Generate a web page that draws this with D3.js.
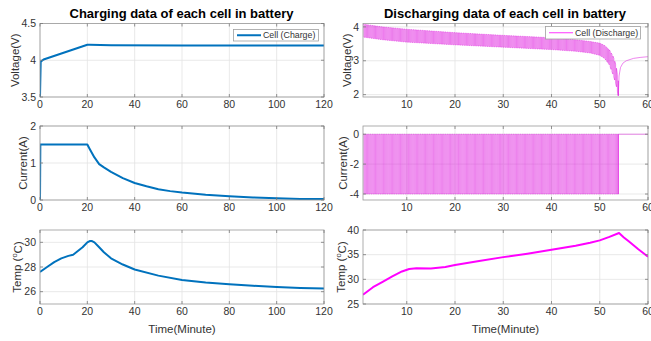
<!DOCTYPE html>
<html>
<head>
<meta charset="utf-8">
<script src="https://cdn.jsdelivr.net/npm/d3@7/dist/d3.min.js"></script>
<style>
  body { margin: 0; background: #fff; }
  text { font-family: "Liberation Sans", Arial, sans-serif; fill: #333; }
</style>
</head>
<body>
<svg id="chart" width="651" height="341"></svg>
<script>
// ---- charging data (minutes) ----
const chTime = [0, 0.3, 1.5, 20, 21, 30, 60, 90, 120];
const chVolt = [3.5, 3.98, 4.01, 4.21, 4.21, 4.205, 4.2, 4.2, 4.2];

const chCurTime = [0, 0.15, 20, 21, 23, 25, 27, 30, 35, 40, 45, 50, 55, 60, 70, 80, 90, 100, 110, 120];
const chCur = [0, 1.5, 1.5, 1.38, 1.15, 0.97, 0.88, 0.76, 0.59, 0.46, 0.37, 0.29, 0.24, 0.2, 0.14, 0.1, 0.07, 0.05, 0.03, 0.025];

const chTempTime = [0, 3, 6, 9, 12, 14, 16, 18, 20, 21, 22, 23, 25, 27, 30, 35, 40, 50, 60, 70, 80, 90, 100, 110, 120];
const chTemp = [27.6, 28.0, 28.4, 28.7, 28.9, 29.0, 29.3, 29.6, 30.0, 30.1, 30.1, 30.0, 29.6, 29.2, 28.7, 28.2, 27.8, 27.3, 26.95, 26.75, 26.6, 26.48, 26.37, 26.3, 26.25];

// ---- discharging data (minutes) ----
// pulse discharge: envelope of the voltage band (rest level / load level)
const disEnvTime = [0.93, 5, 10, 20, 30, 40, 45, 48, 50, 51, 52, 52.8, 53.4, 53.8];
const disVoltRest = [4.08, 4.0, 3.93, 3.83, 3.75, 3.68, 3.62, 3.57, 3.52, 3.45, 3.32, 3.12, 2.85, 2.45];
const disVoltLoad = [3.70, 3.62, 3.55, 3.47, 3.40, 3.33, 3.28, 3.23, 3.16, 3.07, 2.88, 2.58, 2.28, 2.0];
const pulsePeriod = 0.37;   // minutes per rest/load cycle
const pulseEnd = 53.85;
const restCurrent = 0;
const loadCurrent = -4;
// voltage recovery after the last pulse
const disRecTime = [53.85, 54.0, 54.3, 54.8, 55.5, 57, 58.5, 60];
const disRecVolt = [2.0, 2.55, 2.8, 2.93, 3.0, 3.07, 3.1, 3.12];

const disTempTime = [0.93, 3, 5, 7, 9, 10.5, 12, 15, 18, 20, 25, 30, 35, 40, 45, 48, 50, 52, 54, 55, 56, 58, 60];
const disTemp = [26.9, 28.4, 29.5, 30.6, 31.6, 32.1, 32.25, 32.2, 32.5, 32.9, 33.7, 34.5, 35.2, 36.0, 36.8, 37.4, 37.9, 38.6, 39.4, 38.5, 37.7, 36.1, 34.6];

// ---- ticks ----
const chXTicks = [0, 20, 40, 60, 80, 100, 120];
const disXTicks = [10, 20, 30, 40, 50, 60];

const BLUE = "#0072BD";
const MAG = "#ff00ff";

const svg = d3.select("#chart");

// build pulse traces from the envelope arrays
const restAt = d3.scaleLinear().domain(disEnvTime).range(disVoltRest);
const loadAt = d3.scaleLinear().domain(disEnvTime).range(disVoltLoad);
const disVolt = [];
const disCur = [];
for (let t0 = disEnvTime[0]; t0 < pulseEnd; t0 += pulsePeriod) {
  const tm = Math.min(t0 + pulsePeriod / 2, pulseEnd);
  const t1 = Math.min(t0 + pulsePeriod, pulseEnd);
  disVolt.push([t0, restAt(t0)], [tm, restAt(tm)], [tm, loadAt(tm)], [t1, loadAt(t1)]);
  disCur.push([t0, restCurrent], [tm, restCurrent], [tm, loadCurrent], [t1, loadCurrent]);
}
disRecTime.forEach((t, i) => disVolt.push([t, disRecVolt[i]]));
disCur.push([pulseEnd, restCurrent], [60, restCurrent]);

const zip = (a, b) => a.map((t, i) => [t, b[i]]);

let clipId = 0;
function panel(o) {
  const x = d3.scaleLinear().domain(o.xd).range([o.x0, o.x1]);
  const y = d3.scaleLinear().domain(o.yd).range([o.y1, o.y0]);
  const g = svg.append("g");

  // grid
  g.selectAll(".gx").data(o.xt).join("line")
    .attr("x1", d => x(d)).attr("x2", d => x(d))
    .attr("y1", o.y0).attr("y2", o.y1)
    .attr("stroke", "#e3e3e3").attr("stroke-width", 0.8);
  g.selectAll(".gy").data(o.yt).join("line")
    .attr("x1", o.x0).attr("x2", o.x1)
    .attr("y1", d => y(d)).attr("y2", d => y(d))
    .attr("stroke", "#e3e3e3").attr("stroke-width", 0.8);

  // data lines
  const id = "clip" + (clipId++);
  g.append("clipPath").attr("id", id).append("rect")
    .attr("x", o.x0).attr("y", o.y0)
    .attr("width", o.x1 - o.x0).attr("height", o.y1 - o.y0);
  const line = d3.line().x(d => x(d[0])).y(d => y(d[1]));
  o.series.forEach(s => {
    g.append("path").attr("clip-path", `url(#${id})`)
      .attr("d", line(s.data))
      .attr("fill", "none")
      .attr("stroke", s.color)
      .attr("stroke-width", s.width)
      .attr("stroke-opacity", s.opacity || 1)
      .attr("stroke-linejoin", "round");
  });

  // box + inward ticks
  g.append("rect").attr("x", o.x0).attr("y", o.y0)
    .attr("width", o.x1 - o.x0).attr("height", o.y1 - o.y0)
    .attr("fill", "none").attr("stroke", "#9a9a9a").attr("stroke-width", 0.8);
  o.xt.forEach(d => {
    g.append("line").attr("x1", x(d)).attr("x2", x(d)).attr("y1", o.y1).attr("y2", o.y1 - 3)
      .attr("stroke", "#7a7a7a").attr("stroke-width", 0.8);
    g.append("line").attr("x1", x(d)).attr("x2", x(d)).attr("y1", o.y0).attr("y2", o.y0 + 3)
      .attr("stroke", "#7a7a7a").attr("stroke-width", 0.8);
  });
  o.yt.forEach(d => {
    g.append("line").attr("x1", o.x0).attr("x2", o.x0 + 3).attr("y1", y(d)).attr("y2", y(d))
      .attr("stroke", "#7a7a7a").attr("stroke-width", 0.8);
    g.append("line").attr("x1", o.x1).attr("x2", o.x1 - 3).attr("y1", y(d)).attr("y2", y(d))
      .attr("stroke", "#7a7a7a").attr("stroke-width", 0.8);
  });

  // tick labels
  g.selectAll(".tx").data(o.xt).join("text")
    .attr("x", d => x(d)).attr("y", o.y1 + 11)
    .attr("text-anchor", "middle").attr("font-size", 10.5)
    .text(d => d);
  g.selectAll(".ty").data(o.yt).join("text")
    .attr("x", o.x0 - 4).attr("y", d => y(d)).attr("dy", "0.35em")
    .attr("text-anchor", "end").attr("font-size", 10.5)
    .text(d => d);

  // y label
  const yl = g.append("text")
    .attr("transform", `translate(${o.ylx},${(o.y0 + o.y1) / 2}) rotate(-90)`)
    .attr("text-anchor", "middle").attr("dy", "0.35em").attr("font-size", 11.5);
  if (o.temp) {
    yl.append("tspan").text("Temp (");
    yl.append("tspan").attr("font-size", 7.5).attr("dy", "-0.6em").text("o");
    yl.append("tspan").attr("dy", "0.45em").text("C)");
  } else {
    yl.text(o.ylabel);
  }

  if (o.xlabel) {
    g.append("text").attr("x", (o.x0 + o.x1) / 2).attr("y", o.y1 + 29)
      .attr("text-anchor", "middle").attr("font-size", 11.5).text(o.xlabel);
  }
  if (o.title) {
    g.append("text").attr("x", (o.x0 + o.x1) / 2 - 0.5).attr("y", 18)
      .attr("text-anchor", "middle").attr("font-size", 13).attr("font-weight", "bold")
      .style("fill", "#000").text(o.title);
  }
  if (o.legend) {
    const L = o.legend;
    g.append("rect").attr("x", L.x).attr("y", L.y).attr("width", L.w).attr("height", L.h)
      .attr("fill", "#fff").attr("stroke", "#a0a0a0").attr("stroke-width", 0.8);
    g.append("line").attr("x1", L.x + 3.5).attr("x2", L.x + 27.5)
      .attr("y1", L.y + L.h / 2).attr("y2", L.y + L.h / 2)
      .attr("stroke", L.color).attr("stroke-width", L.lw);
    g.append("text").attr("x", L.x + 29.5).attr("y", L.y + L.h / 2).attr("dy", "0.35em")
      .attr("font-size", 8.8).text(L.label);
  }
}

const LX = [40, 324], RX = [363, 648];
const rows = [[23.5, 97], [126, 200], [230, 304]];

panel({ x0: LX[0], x1: LX[1], y0: rows[0][0], y1: rows[0][1], xd: [0, 120], yd: [3.5, 4.5],
  xt: chXTicks, yt: [3.5, 4, 4.5], ylabel: "Voltage(V)", ylx: 15,
  title: "Charging data of each cell in battery",
  legend: { x: 233.5, y: 29.5, w: 85, h: 11.5, color: BLUE, lw: 2, label: "Cell (Charge)" },
  series: [{ data: zip(chTime, chVolt), color: BLUE, width: 2 }] });
panel({ x0: LX[0], x1: LX[1], y0: rows[1][0], y1: rows[1][1], xd: [0, 120], yd: [0, 2],
  xt: chXTicks, yt: [0, 1, 2], ylabel: "Current(A)", ylx: 23,
  series: [{ data: zip(chCurTime, chCur), color: BLUE, width: 2 }] });
panel({ x0: LX[0], x1: LX[1], y0: rows[2][0], y1: rows[2][1], xd: [0, 120], yd: [25, 31],
  xt: chXTicks, yt: [26, 28, 30], temp: true, ylx: 17, xlabel: "Time(Minute)",
  series: [{ data: zip(chTempTime, chTemp), color: BLUE, width: 2 }] });

panel({ x0: RX[0], x1: RX[1], y0: rows[0][0], y1: rows[0][1], xd: [0.93, 60], yd: [1.93, 4.1],
  xt: disXTicks, yt: [2, 3, 4], ylabel: "Voltage(V)", ylx: 347,
  title: "Discharging data of each cell in battery",
  legend: { x: 545.5, y: 26.5, w: 95, h: 12.5, color: MAG, lw: 0.8, label: "Cell (Discharge)" },
  series: [{ data: disVolt, color: "#e020e0", width: 0.6, opacity: 0.9 }] });
panel({ x0: RX[0], x1: RX[1], y0: rows[1][0], y1: rows[1][1], xd: [0.93, 60], yd: [-4.4, 0.55],
  xt: disXTicks, yt: [-4, -2, 0], ylabel: "Current(A)", ylx: 343,
  series: [{ data: disCur, color: "#e020e0", width: 0.6, opacity: 0.85 }] });
panel({ x0: RX[0], x1: RX[1], y0: rows[2][0], y1: rows[2][1], xd: [0.93, 60], yd: [25, 40],
  xt: disXTicks, yt: [25, 30, 35, 40], temp: true, ylx: 341, xlabel: "Time(Minute)",
  series: [{ data: zip(disTempTime, disTemp), color: MAG, width: 2 }] });
</script>
</body>
</html>
